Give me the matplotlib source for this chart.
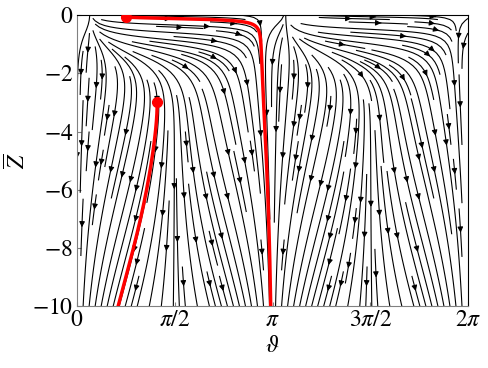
import numpy as np
import matplotlib
matplotlib.use("Agg")
import matplotlib.pyplot as plt

plt.rcParams['font.family'] = ['Liberation Serif', 'DejaVu Serif']
plt.rcParams['mathtext.fontset'] = 'stix'

# field parameters (surface jet + deep return flow + uniform sinking)
A = 13.0        # surface jet strength
a = 2.0         # decay rate of the jet with depth
c = 0.13        # deep horizontal flow
ad = 0.35       # growth rate of deep flow with depth
W = 1.0         # sinking speed
x0 = 0.803      # phase of surface jet
b = 0.927       # offset of surface jet

# red trajectories: start points (theta, Z)
start_theta = [0.787, 1.286]
start_z = [-0.07, -3.0]

xtick_vals = [0, np.pi/2, np.pi, 3*np.pi/2, 2*np.pi]
xtick_labels = [r'$0$', r'$\pi/2$', r'$\pi$', r'$3\pi/2$', r'$2\pi$']
ytick_vals = [0, -2, -4, -6, -8, -10]


def vel(x, z):
    e = np.exp(a*z)
    f = np.sin(2*(x - x0)) + b
    u = A*f*e - c*np.sin(2*x)*(1 - np.exp(ad*z))
    w = -W*np.ones_like(x*z)
    return u, w


x = np.linspace(0, 2*np.pi, 300)
z = np.linspace(-10, 0, 300)
X, Z = np.meshgrid(x, z)
U, Wf = vel(X, Z)

fig = plt.figure(figsize=(4.88, 3.68), dpi=100)
ax = fig.add_axes([0.158, 0.168, 0.801, 0.791])
ax.streamplot(X, Z, U, Wf, density=2.2, color='black', linewidth=0.8,
              arrowsize=0.8)

# integrate red trajectories through the field
for th, zz in zip(start_theta, start_z):
    px, pz = [th], [zz]
    cx, cz = th, zz
    dt = 0.002
    while cz > -10 and len(px) < 200000:
        k1 = vel(cx, cz)
        k2 = vel(cx + dt/2*k1[0], cz + dt/2*k1[1])
        k3 = vel(cx + dt/2*k2[0], cz + dt/2*k2[1])
        k4 = vel(cx + dt*k3[0], cz + dt*k3[1])
        cx += dt/6*(k1[0] + 2*k2[0] + 2*k3[0] + k4[0])
        cz += dt/6*(k1[1] + 2*k2[1] + 2*k3[1] + k4[1])
        px.append(cx)
        pz.append(cz)
    ax.plot(px, pz, color='red', lw=2.5, zorder=5)
    ax.plot([th], [zz], 'o', color='red', ms=7, zorder=6)

ax.set_xlim(0, 2*np.pi)
ax.set_ylim(-10, 0)
ax.set_xticks(xtick_vals)
ax.set_xticklabels(xtick_labels)
ax.set_yticks(ytick_vals)
ax.set_yticklabels([r'$%d$' % v for v in ytick_vals])
ax.tick_params(direction='in', length=3, color='gray', labelsize=17, pad=3)
ax.spines['left'].set_color('gray')
ax.spines['bottom'].set_color('gray')
ax.set_xlabel(r'$\vartheta$', fontsize=17, labelpad=3)
ax.set_ylabel(r'$\overline{Z}$', fontsize=17, labelpad=1)

fig.savefig('out.png', dpi=100)
